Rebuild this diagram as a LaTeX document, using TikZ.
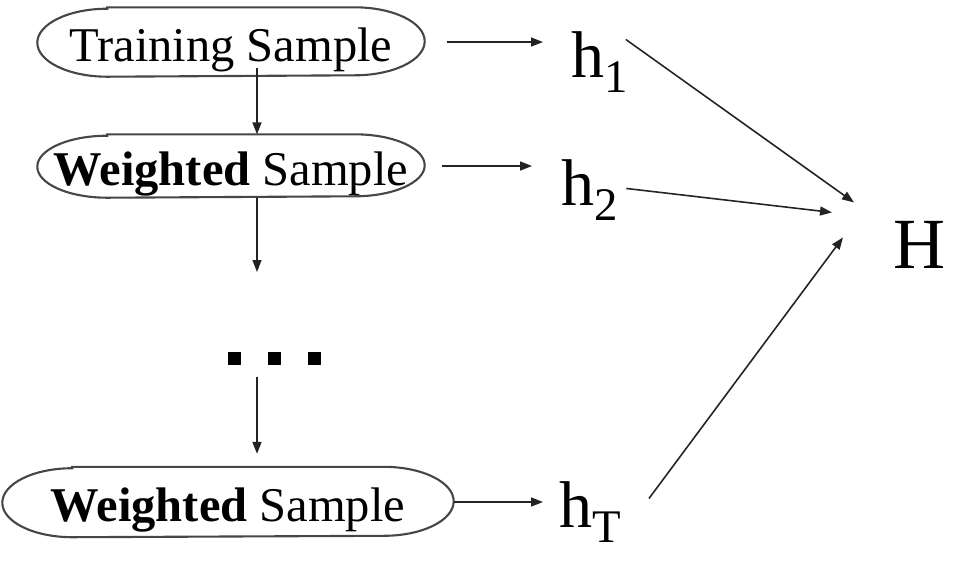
\documentclass[tikz,border=0pt]{standalone}
\usepackage{fontspec}
\setmainfont{Liberation Serif}
\usetikzlibrary{arrows.meta}
\definecolor{RingGray}{RGB}{70,70,70}
\definecolor{LineGray}{RGB}{35,35,35}
\newcommand{\hyp}[1]{{\fontsize{18.8}{20}\selectfont h}{\fontsize{13.3}{14}\selectfont\raisebox{-0.15cm}{#1}}}
\newcommand{\samplering}[2]{%
  \draw[RingGray, line width=0.6pt] ([xshift=0.7cm]#1.north west) -- ([xshift=-0.7cm]#1.north east)
    arc[start angle=90, end angle=-90, x radius=0.7cm, y radius=#2]
    -- ([xshift=0.7cm]#1.south west)
    arc[start angle=270, end angle=90, x radius=0.7cm, y radius=#2] -- cycle;}

\begin{document}
\begin{tikzpicture}[every node/.style={inner sep=0pt},
  sample/.style={minimum width=3.86cm, text height=0.46cm, text depth=0.08cm, font=\fontsize{13.8}{15}\selectfont},
  link/.style={-{Triangle[length=0.12cm, width=0.09cm]}, LineGray, line width=0.45pt}]
  \useasboundingbox (0,0) rectangle (9.55,-5.65);
  % samples on the left
  \node[sample, minimum height=0.68cm] (train) at (2.31,-0.42) {Training Sample};
  \node[sample, minimum height=0.62cm] (wone) at (2.31,-1.66) {\textbf{Weighted} Sample};
  \node[sample, minimum height=0.69cm, minimum width=4.5cm] (wlast) at (2.28,-5.02) {\textbf{Weighted} Sample};
  \samplering{train}{0.34cm}
  \samplering{wone}{0.31cm}
  \samplering{wlast}{0.345cm}
  \node (dots) at (2.74,-3.58) {\rule{0.13cm}{0.13cm}\hspace{0.27cm}\rule{0.13cm}{0.13cm}\hspace{0.27cm}\rule{0.13cm}{0.13cm}};
  \coordinate (gap) at (2.57,-2.72);
  % hypotheses
  \node[anchor=base west] (h1) at (5.71,-0.77) {\hyp{1}};
  \node[anchor=base west] (h2) at (5.61,-2.05) {\hyp{2}};
  \node[anchor=base west] (hT) at (5.59,-5.27) {\hyp{T}};
  \node[anchor=base west, font=\fontsize{20.5}{22}\selectfont] (H) at (8.93,-2.68) {H};
  % arrows down the left column
  \draw[link, shorten <=-0.09cm] ([xshift=0.26cm]train.south) -- ([xshift=0.26cm]wone.north);
  \draw[link] ([xshift=0.26cm]wone.south) -- (gap);
  \draw[link, shorten >=0.13cm] ([xshift=-0.17cm, yshift=-0.12cm]dots.south) -- ([xshift=0.29cm]wlast.north);
  % samples to hypotheses
  \draw[link, shorten <=0.22cm, shorten >=0.28cm] (train.east) -- (train.east -| h1.west);
  \draw[link, shorten <=0.17cm, shorten >=0.29cm] (wone.east) -- (wone.east -| h2.west);
  \draw[link, shorten >=0.16cm] (wlast.east) -- (wlast.east -| hT.west);
  % hypotheses to H
  \draw[link] ([xshift=-0.03cm, yshift=-0.09cm]h1.north east) -- ([xshift=-0.39cm, yshift=0.42cm]H.west);
  \draw[link] ([xshift=0.075cm, yshift=-0.30cm]h2.north east) -- ([xshift=-0.61cm, yshift=0.32cm]H.west);
  \draw[link] ([xshift=0.27cm, yshift=-0.18cm]hT.north east) -- ([xshift=-0.50cm, yshift=0.07cm]H.west);
\end{tikzpicture}
\end{document}
